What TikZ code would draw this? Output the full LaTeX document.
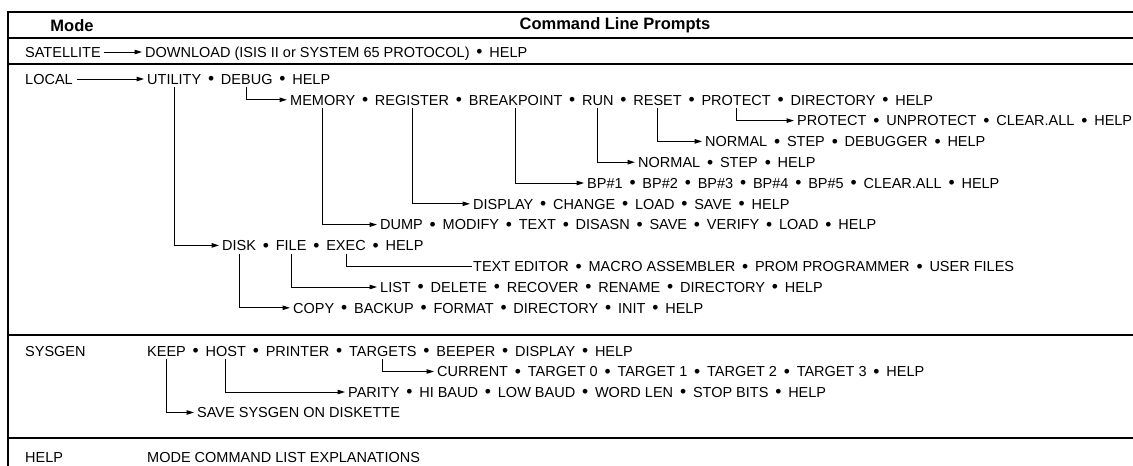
\documentclass[tikz,border=0pt]{standalone}
\usepackage{fontspec}
\setmainfont{Liberation Sans}
\usetikzlibrary{arrows.meta,calc}
\newcommand\bulsep{\makebox[19pt]{\raisebox{-0.6pt}{\fontsize{17.5}{17.5}\selectfont\textbullet}}}
\newcommand\prow[3]{%
  \foreach \w [count=\i] in {#3} {%
    \ifnum\i=1
      \node[w] (#1-\i) at (#2) {\w};
    \else
      \pgfmathtruncatemacro\j{\i-1}%
      \node[w] (#1-s\i) at (#1-\j.base east) {\bulsep};
      \node[w] (#1-\i) at (#1-s\i.base east) {\w};
    \fi
  }%
}
\tikzset{
  w/.style={inner sep=0pt, anchor=base west, text height=10.4pt, text depth=0pt,
            font=\fontsize{14.5}{17}\selectfont},
  hdr/.style={inner sep=0pt, font=\fontsize{16.5}{20}\selectfont\bfseries},
  arr/.style={line width=1pt, -{Triangle[length=7.5pt,width=4.5pt]}, shorten >=3pt},
  conn/.style={line width=1pt},
  rule/.style={line width=1.1pt},
}
\begin{document}
\begin{tikzpicture}[x=1pt,y=-1pt]
\useasboundingbox (0,0) rectangle (1133,466);
% table rules
\draw[rule] (8,466) -- (8,12) -- (1133,12);
\draw[rule] (8,38) -- (1133,38);
\draw[rule] (8,64) -- (1133,64);
\draw[rule] (8,335) -- (1133,335);
\draw[rule] (8,438) -- (1133,438);
% header
\node[hdr] (hmode) at (72,25.5) {Mode};
\node[hdr] (hcmd) at (615,25.5) {Command Line Prompts};
% mode labels
\node[w] (lsat) at (25,57.2) {SATELLITE};
\node[w] (lloc) at (25,84.2) {LOCAL};
\node[w] (lsys) at (25,356.2) {SYSGEN};
\node[w] (lhlp) at (25,462.2) {HELP};
% rows
\prow{sat}{145,57.2}{DOWNLOAD (ISIS II or SYSTEM 65 PROTOCOL),HELP}
\prow{util}{147,84.2}{UTILITY,DEBUG,HELP}
\prow{mem}{290,105.0}{MEMORY,REGISTER,BREAKPOINT,RUN,RESET,PROTECT,DIRECTORY,HELP}
\prow{prot}{797,125.8}{PROTECT,UNPROTECT,CLEAR.ALL,HELP}
\prow{reset}{705,146.6}{NORMAL,STEP,DEBUGGER,HELP}
\prow{run}{638,167.4}{NORMAL,STEP,HELP}
\prow{bp}{587,188.2}{BP\#1,BP\#2,BP\#3,BP\#4,BP\#5,CLEAR.ALL,HELP}
\prow{reg}{473,209.0}{DISPLAY,CHANGE,LOAD,SAVE,HELP}
\prow{dump}{380,229.8}{DUMP,MODIFY,TEXT,DISASN,SAVE,VERIFY,LOAD,HELP}
\prow{disk}{222,250.6}{DISK,FILE,EXEC,HELP}
\prow{exec}{473,271.4}{TEXT EDITOR,MACRO ASSEMBLER,PROM PROGRAMMER,USER FILES}
\prow{list}{380,292.2}{LIST,DELETE,RECOVER,RENAME,DIRECTORY,HELP}
\prow{copy}{293,313.0}{COPY,BACKUP,FORMAT,DIRECTORY,INIT,HELP}
\prow{sys}{147,356.2}{KEEP,HOST,PRINTER,TARGETS,BEEPER,DISPLAY,HELP}
\prow{tgt}{437,376.7}{CURRENT,TARGET 0,TARGET 1,TARGET 2,TARGET 3,HELP}
\prow{par}{348,397.2}{PARITY,HI BAUD,LOW BAUD,WORD LEN,STOP BITS,HELP}
\prow{save}{197,417.7}{SAVE SYSGEN ON DISKETTE}
\prow{hlp}{147,462.2}{MODE COMMAND LIST EXPLANATIONS}
% connectors
\draw[arr, shorten <=3pt] (lsat.east) -- (sat-1.west);
\draw[arr, shorten <=4pt] (lloc.east) -- (util-1.west);
\draw[arr] ([yshift=-3pt]util-2.south) |- (mem-1.west);
\draw[arr] ([yshift=-3pt]util-1.south) |- (disk-1.west);
\draw[arr] ([yshift=-3pt]mem-1.south) |- (dump-1.west);
\draw[arr] ([yshift=-3pt]mem-2.south) |- (reg-1.west);
\draw[arr] ([yshift=-3pt]mem-3.south) |- (bp-1.west);
\draw[arr] ([yshift=-3pt]mem-4.south) |- (run-1.west);
\draw[arr] ([yshift=-3pt]mem-5.south) |- (reset-1.west);
\draw[arr] ([yshift=-3pt]mem-6.south) |- (prot-1.west);
\draw[arr] ([yshift=-3pt]disk-1.south) |- (copy-1.west);
\draw[arr] ([yshift=-3pt]disk-2.south) |- (list-1.west);
\draw[conn, shorten >=1pt] ([yshift=-3pt]disk-3.south) |- (exec-1.west);
\draw[arr] ([yshift=-3pt]sys-1.south) |- (save-1.west);
\draw[arr] ([yshift=-3pt]sys-2.south) |- (par-1.west);
\draw[arr] ([yshift=-3pt]sys-4.south) |- (tgt-1.west);
\end{tikzpicture}
\end{document}
